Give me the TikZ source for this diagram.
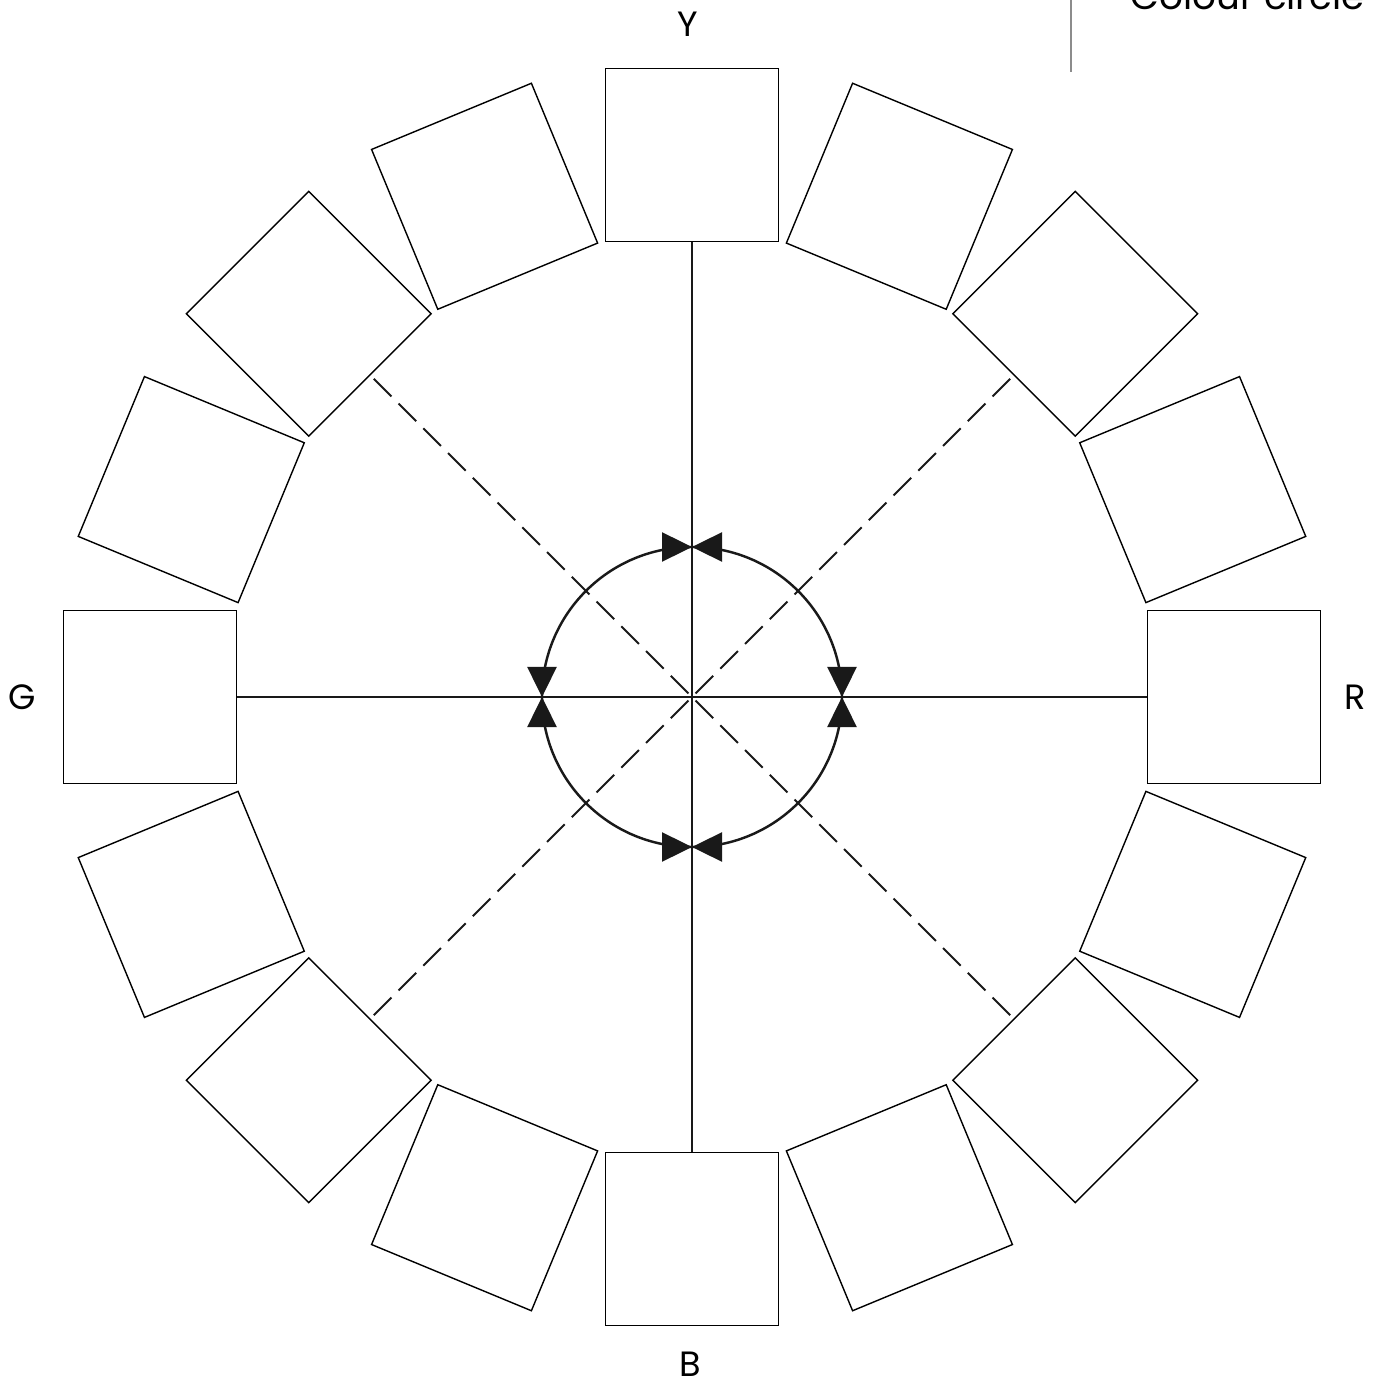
\documentclass[tikz,border=0pt]{standalone}
\usepackage{fontspec}
\setmainfont{Poppins}
\usetikzlibrary{arrows.meta,calc}
\tikzset{
    swatch/.style={
        draw,
        black,
        line width=0.4pt,
        rectangle,
        minimum size=1.73cm,
        inner sep=0pt
    },
    axisline/.style={
        line width=0.6pt,
        black!90
    },
    guideline/.style={
        line width=0.6pt,
        black!90,
        dash pattern=on 2.5mm off 1mm
    },
    ringline/.style={
        line width=0.7pt,
        black!90
    },
    ringtip/.style={
        line width=0.7pt,
        black!90,
        -{Triangle[length=3mm,width=2.9mm]}
    },
    hue label/.style={
        font=\fontsize{10}{12}\selectfont
    }
}
\begin{document}
\begin{tikzpicture}
                \useasboundingbox (-6.92,-6.86) rectangle (6.86,6.97);
                \coordinate (O) at (0.0, 0.0);
                \foreach \i [evaluate=\i as \a using 22.5*\i] in {0,...,15}{
                    \node [swatch, rotate=\a-90] (sq\i) at (\a:5.42) {};
                }
                \coordinate (D1) at (45:4.5);
                \coordinate (D2) at (135:4.5);
                \coordinate (D3) at (225:4.5);
                \coordinate (D4) at (315:4.5);
                \draw [guideline] (D2) -- (D4);
                \draw [guideline] (D1) -- (D3);
                \draw [axisline] (sq4.south) -- (sq12.south);
                \draw [axisline] (sq8.south) -- (sq0.south);
                \draw [ringline] (O) circle (1.5);
                \foreach \s in {0,90,180,270}{
                    \coordinate (P\s) at (\s:1.5);
                    \draw [ringtip] ($(P\s)+(\s+90:0.3)$) -- (P\s);
                    \draw [ringtip] ($(P\s)+(\s-90:0.3)$) -- (P\s);
                }
                \node [hue label] (Y) at (-0.04, 6.73) {Y};
                \node [hue label] (G) at (-6.70, 0.0) {G};
                \node [hue label] (R) at (6.63, 0.0) {R};
                \node [hue label] (B) at (-0.02, -6.67) {B};
                \coordinate (T1) at (3.79, 6.97);
                \coordinate (T2) at (3.79, 6.25);
                \draw [black!45, line width=0.5pt] (T1) -- (T2);
                \node [anchor=base west, inner sep=0pt, font=\fontsize{10.6}{13}\selectfont] (title) at (4.38, 6.87) {Colour circle};
            \end{tikzpicture}
\end{document}
